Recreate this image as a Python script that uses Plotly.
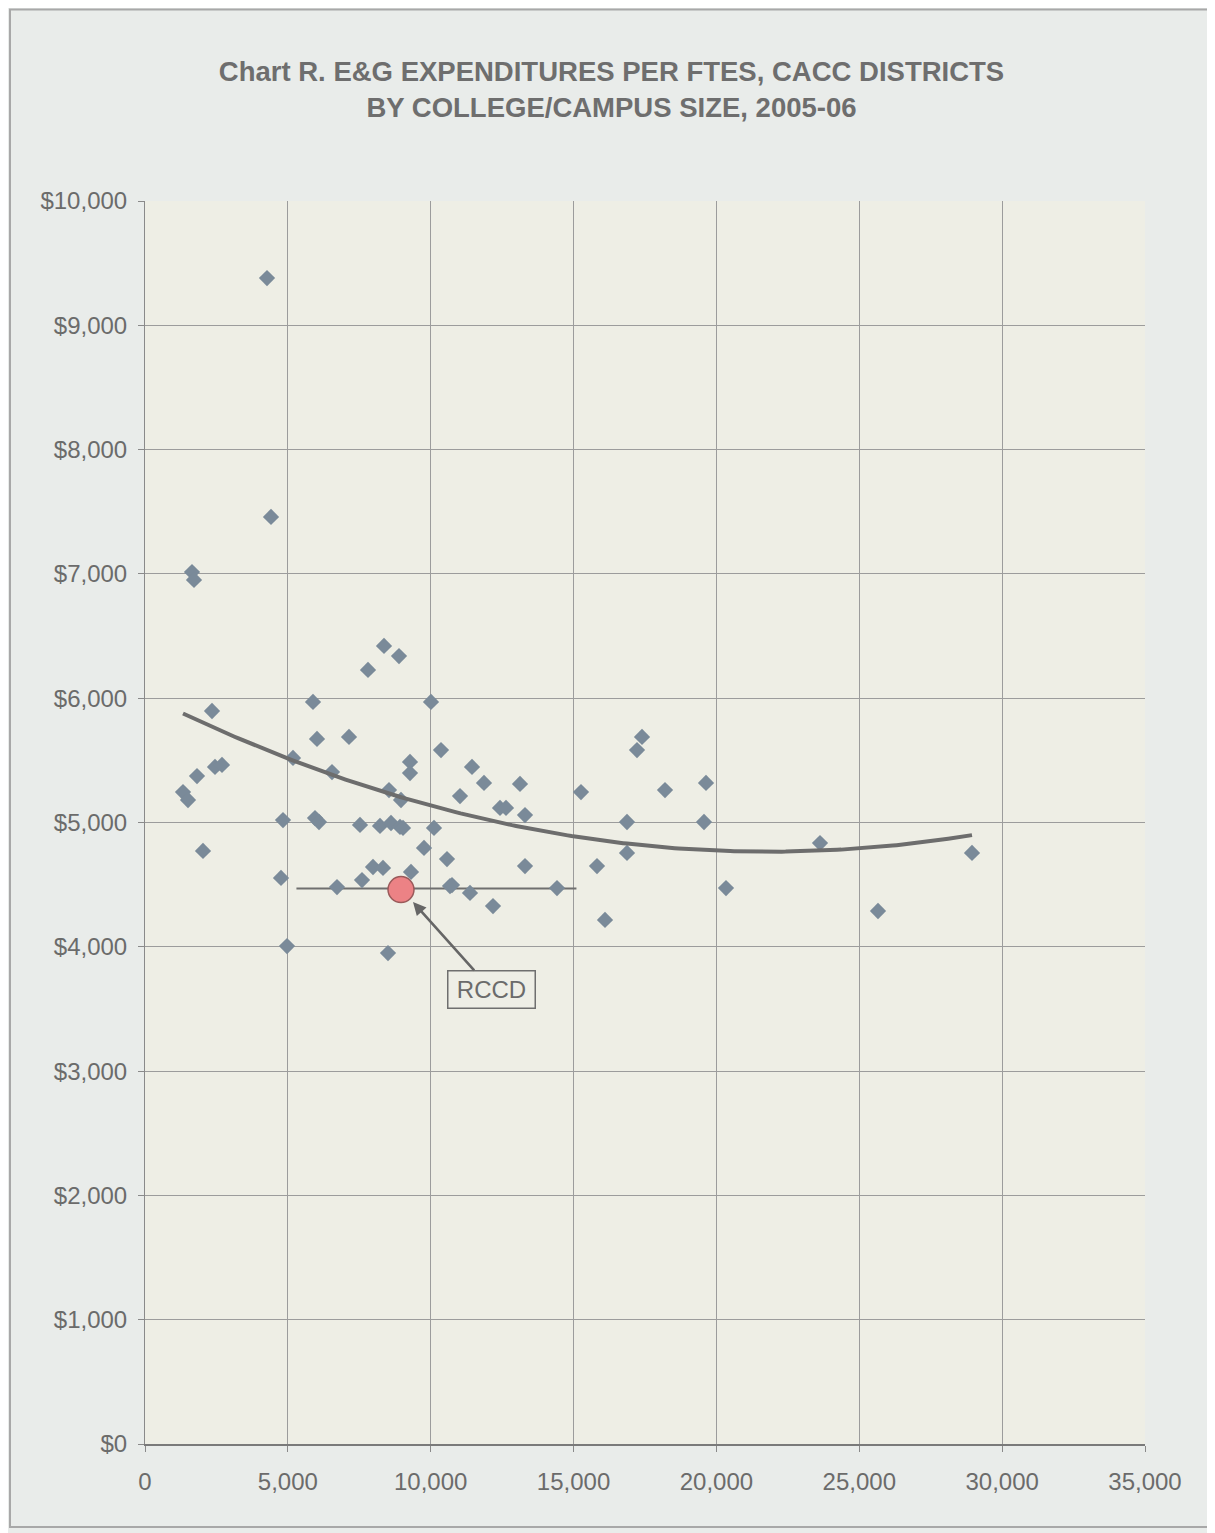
import numpy as np
import plotly.graph_objects as go

# College/campus size (FTES) and E&G expenditures per FTES
size_ftes = [4270, 4410, 1645, 1715, 2345, 1330, 1505, 1820, 2450, 2695,
             2030, 4830, 4760, 4970, 5180, 5880, 6020, 5950, 6090, 6545,
             6720, 7140, 7525, 7595, 7805, 7980, 8365, 8225, 8330, 8540,
             8610, 8890, 8925, 8960, 8505, 9030, 9275, 9275, 9310, 9765,
             10010, 10115, 10360, 10570, 10675, 10745, 11025, 11375, 11445, 11865,
             12425, 12635, 12180, 13125, 13300, 13300, 14420, 15260, 15820, 16100,
             16870, 16870, 17220, 17395, 18200, 19565, 19635, 20335, 23625, 25655,
             28945]
exp_per_ftes = [9380, 7458, 7015, 6951, 5897, 5245, 5181, 5374, 5447, 5463,
                4771, 5020, 4554, 4006, 5519, 5970, 5672, 5036, 5004, 5406,
                4481, 5688, 4980, 4537, 6227, 4642, 6420, 4972, 4634, 5261,
                4996, 6339, 4964, 5181, 3950, 4956, 5487, 5398, 4602, 4795,
                5970, 4956, 5583, 4706, 4489, 4497, 5213, 4433, 5447, 5318,
                5117, 5117, 4328, 5310, 5060, 4650, 4473, 5245, 4650, 4216,
                5004, 4755, 5583, 5688, 5261, 5004, 5318, 4473, 4835, 4288,
                4755]

rccd_label = "RCCD"
rccd_size = [8960]
rccd_exp = [4460]

ref_line_x = [5300, 15100]
ref_line_y = [4470, 4470]

x_ticks = [0, 5000, 10000, 15000, 20000, 25000, 30000, 35000]
y_ticks = [0, 1000, 2000, 3000, 4000, 5000, 6000, 7000, 8000, 9000, 10000]

# polynomial (order 2) trend line fitted to the data, as in the original
coef = np.polyfit(size_ftes, exp_per_ftes, 2)
trend_x = np.linspace(min(size_ftes), max(size_ftes), 200)
trend_y = np.polyval(coef, trend_x)

FONT = "Liberation Sans, Arial, sans-serif"
TXT = "#6b6b6b"

fig = go.Figure()
fig.add_trace(go.Scatter(x=ref_line_x, y=ref_line_y, mode="lines",
                         line=dict(color="#6f6f6f", width=2), hoverinfo="skip"))
fig.add_trace(go.Scatter(x=size_ftes, y=exp_per_ftes, mode="markers",
                         marker=dict(symbol="diamond", size=12.5, color="#7A8A99",
                                     line=dict(width=0))))
fig.add_trace(go.Scatter(x=trend_x, y=trend_y, mode="lines",
                         line=dict(color="#6d6d6d", width=4)))
fig.add_trace(go.Scatter(x=rccd_size, y=rccd_exp, mode="markers",
                         marker=dict(symbol="circle", size=26, color="#EC8285",
                                     line=dict(color="#9a5a5a", width=1.5))))

fig.add_annotation(x=9380, y=4360, ax=12110, ay=3660, xref="x", yref="y",
                   axref="x", ayref="y", text=rccd_label, showarrow=True,
                   arrowhead=2, arrowsize=1.0, arrowwidth=2.6, arrowcolor="#666666",
                   standoff=0, font=dict(family=FONT, size=24, color=TXT),
                   bordercolor="#6f6f6f", borderwidth=1.5, borderpad=3,
                   bgcolor="#EEEEE6", width=80, height=30)

fig.add_shape(type="rect", xref="paper", yref="paper", x0=-0.135, x1=1.066,
              y0=-0.0668, y1=1.154, line=dict(color="#a8a8a8", width=2),
              fillcolor="rgba(0,0,0,0)", layer="below")

fig.update_layout(
    width=1207, height=1525,
    margin=dict(l=137, r=70, t=193, b=89),
    paper_bgcolor="#E9ECEA", plot_bgcolor="#EEEEE5",
    showlegend=False,
    title=dict(text="Chart R. E&G EXPENDITURES PER FTES, CACC DISTRICTS<br>BY COLLEGE/CAMPUS SIZE, 2005-06",
               x=0.5, xref="container", xanchor="center",
               y=0.952, yref="container", yanchor="top",
               font=dict(family=FONT, size=27.5, color="#6e6e6e", weight="bold")),
    font=dict(family=FONT, color=TXT, size=24),
)
fig.update_xaxes(range=[0, 35000], tickvals=x_ticks,
                 ticktext=[f"{v:,}" for v in x_ticks],
                 showgrid=True, gridcolor="#9c9c9c", gridwidth=1,
                 zeroline=False, showline=True, linecolor="#7a7a7a", linewidth=2,
                 ticks="outside", ticklen=6, tickcolor="#8a8a8a",
                 ticklabelstandoff=9, tickfont=dict(size=24, color=TXT),
                 mirror=False)
fig.update_yaxes(range=[0, 10000], tickvals=y_ticks,
                 ticktext=[f"${v:,}" for v in y_ticks],
                 showgrid=True, gridcolor="#9c9c9c", gridwidth=1,
                 zeroline=False, showline=True, linecolor="#8a8a8a", linewidth=1,
                 ticks="outside", ticklen=6, tickcolor="#8a8a8a",
                 ticklabelstandoff=6, tickfont=dict(size=24, color=TXT))

fig.write_html("out.html")
